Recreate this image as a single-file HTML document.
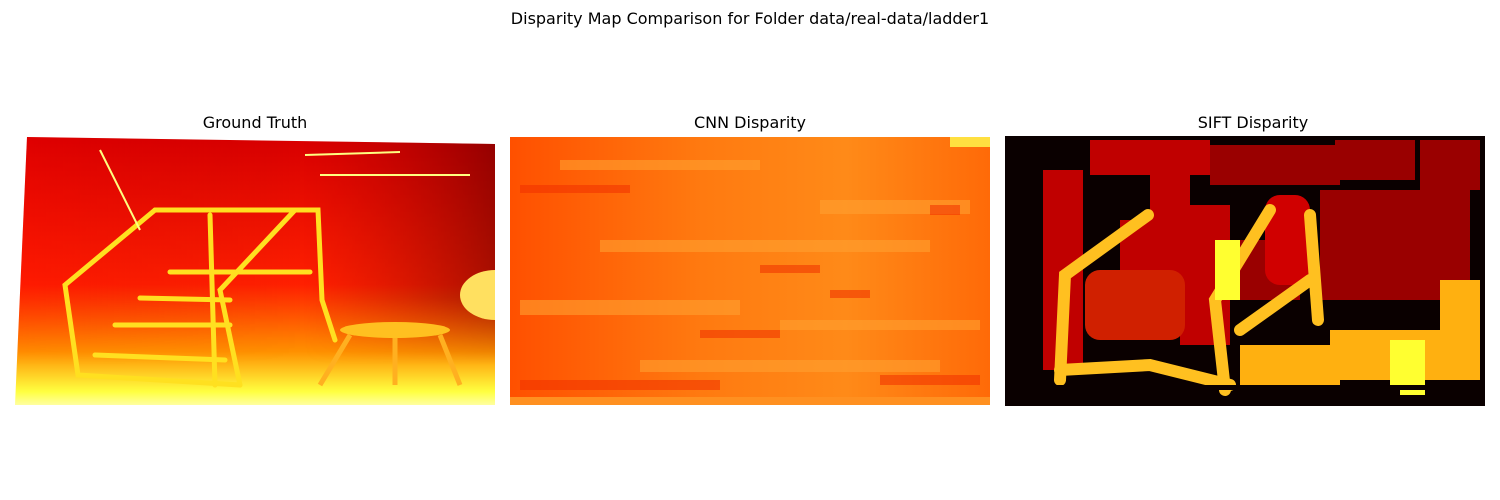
<!DOCTYPE html>
<html><head><meta charset="utf-8"><style>
body{margin:0;background:#fff;width:1500px;height:500px;overflow:hidden;font-family:"Liberation Sans",sans-serif}
svg{display:block}
text{font-family:"DejaVu Sans","Liberation Sans",sans-serif;fill:#000}
</style></head><body>
<svg width="1500" height="500" viewBox="0 0 1500 500">
<defs>
<linearGradient id="gt" x1="0" y1="0" x2="0" y2="1">
<stop offset="0" stop-color="#d80000"/><stop offset="0.55" stop-color="#ff2000"/><stop offset="0.8" stop-color="#ff9000"/><stop offset="0.95" stop-color="#ffff40"/><stop offset="1" stop-color="#ffffa0"/></linearGradient>
<linearGradient id="gth" x1="0" y1="0" x2="1" y2="0">
<stop offset="0" stop-color="#ff0000" stop-opacity="0.2"/><stop offset="0.6" stop-color="#a00000" stop-opacity="0"/><stop offset="1" stop-color="#500000" stop-opacity="0.5"/></linearGradient>
<linearGradient id="gtv" x1="0" y1="0" x2="0" y2="1">
<stop offset="0" stop-color="#fff" stop-opacity="1"/><stop offset="0.6" stop-color="#fff" stop-opacity="1"/><stop offset="0.85" stop-color="#fff" stop-opacity="0"/></linearGradient>
<mask id="gtm"><rect x="15" y="137" width="480" height="268" fill="url(#gtv)"/></mask>
<clipPath id="gtc"><polygon points="27,137 495,144 495,405 15,405"/></clipPath>
<linearGradient id="cnn" x1="0" y1="0" x2="1" y2="0">
<stop offset="0" stop-color="#ff5000"/><stop offset="0.4" stop-color="#ff7a10"/><stop offset="0.7" stop-color="#ff8a18"/><stop offset="1" stop-color="#ff6a08"/></linearGradient>
</defs>
<text x="750" y="24" text-anchor="middle" font-size="16">Disparity Map Comparison for Folder data/real-data/ladder1</text>

<g>
<text x="255" y="128" text-anchor="middle" font-size="16">Ground Truth</text>
<g clip-path="url(#gtc)">
<rect x="15" y="137" width="480" height="268" fill="url(#gt)"/>
<rect x="15" y="137" width="480" height="268" fill="url(#gth)" mask="url(#gtm)"/>
<g stroke="#ffe020" stroke-width="5" fill="none" stroke-linecap="round">
<polyline points="155,210 65,285 78,375 240,385"/>
<polyline points="155,210 318,210 322,300 335,340"/>
<polyline points="295,210 220,290 240,385"/>
<line x1="210" y1="215" x2="215" y2="385"/>
<line x1="95" y1="355" x2="225" y2="360"/>
<line x1="115" y1="325" x2="230" y2="325"/>
<line x1="140" y1="298" x2="230" y2="300"/>
<line x1="170" y1="272" x2="310" y2="272"/>
</g>
<ellipse cx="395" cy="330" rx="55" ry="8" fill="#ffc020"/>
<g stroke="#ffb020" stroke-width="5"><line x1="350" y1="335" x2="320" y2="385"/><line x1="440" y1="335" x2="460" y2="385"/><line x1="395" y1="338" x2="395" y2="385"/></g>
<ellipse cx="495" cy="295" rx="35" ry="25" fill="#ffe060"/>
<g stroke="#ffff80" stroke-width="2"><line x1="100" y1="150" x2="140" y2="230"/><line x1="320" y1="175" x2="470" y2="175"/><line x1="305" y1="155" x2="400" y2="152"/></g>
</g>
</g>

<g>
<text x="750" y="128" text-anchor="middle" font-size="16">CNN Disparity</text>
<rect x="510" y="137" width="480" height="268" fill="url(#cnn)"/>
<g fill="#ffa030" opacity="0.6">
<rect x="560" y="160" width="200" height="10"/><rect x="600" y="240" width="330" height="12"/><rect x="520" y="300" width="220" height="15"/><rect x="780" y="320" width="200" height="10"/><rect x="640" y="360" width="300" height="12"/><rect x="820" y="200" width="150" height="14"/>
</g>
<g fill="#f03000" opacity="0.55">
<rect x="520" y="185" width="110" height="8"/><rect x="760" y="265" width="60" height="8"/><rect x="830" y="290" width="40" height="8"/><rect x="930" y="205" width="30" height="10"/><rect x="700" y="330" width="80" height="8"/><rect x="520" y="380" width="200" height="10"/><rect x="880" y="375" width="100" height="10"/>
</g>
<rect x="950" y="137" width="40" height="10" fill="#ffe040"/>
<rect x="510" y="397" width="480" height="8" fill="#ff9020"/>
</g>

<g>
<text x="1253" y="128" text-anchor="middle" font-size="16">SIFT Disparity</text>
<rect x="1005" y="136" width="480" height="270" fill="#0a0000"/>
<g fill="#c00000">
<rect x="1043" y="170" width="40" height="200"/><rect x="1090" y="140" width="120" height="35"/><rect x="1150" y="170" width="40" height="80"/><rect x="1180" y="205" width="50" height="140"/><rect x="1120" y="220" width="60" height="110"/>
</g>
<g fill="#9a0000">
<rect x="1210" y="145" width="130" height="40"/><rect x="1320" y="190" width="150" height="110"/><rect x="1420" y="140" width="60" height="50"/><rect x="1335" y="140" width="80" height="40"/><rect x="1240" y="240" width="60" height="60"/>
</g>
<rect x="1265" y="195" width="45" height="90" rx="15" fill="#d00000"/>
<rect x="1085" y="270" width="100" height="70" rx="15" fill="#d02000"/>
<g stroke="#ffc020" stroke-width="12" fill="none" stroke-linecap="round">
<polyline points="1148,215 1065,275 1060,380"/>
<polyline points="1270,210 1215,300 1225,390"/>
<polyline points="1310,280 1240,330"/>
<polyline points="1060,370 1150,365 1230,385"/>
<line x1="1310" y1="215" x2="1318" y2="320"/>
</g>
<g fill="#ffb010">
<rect x="1330" y="330" width="150" height="50"/><rect x="1240" y="345" width="100" height="45"/><rect x="1440" y="280" width="40" height="60"/>
</g>
<g fill="#ffff30"><rect x="1390" y="340" width="35" height="55"/><rect x="1215" y="240" width="25" height="60"/></g>
<g fill="#0a0000"><rect x="1043" y="385" width="440" height="5"/><rect x="1100" y="375" width="60" height="6"/><rect x="1300" y="390" width="100" height="6"/></g>
</g>
</svg>
</body></html>
